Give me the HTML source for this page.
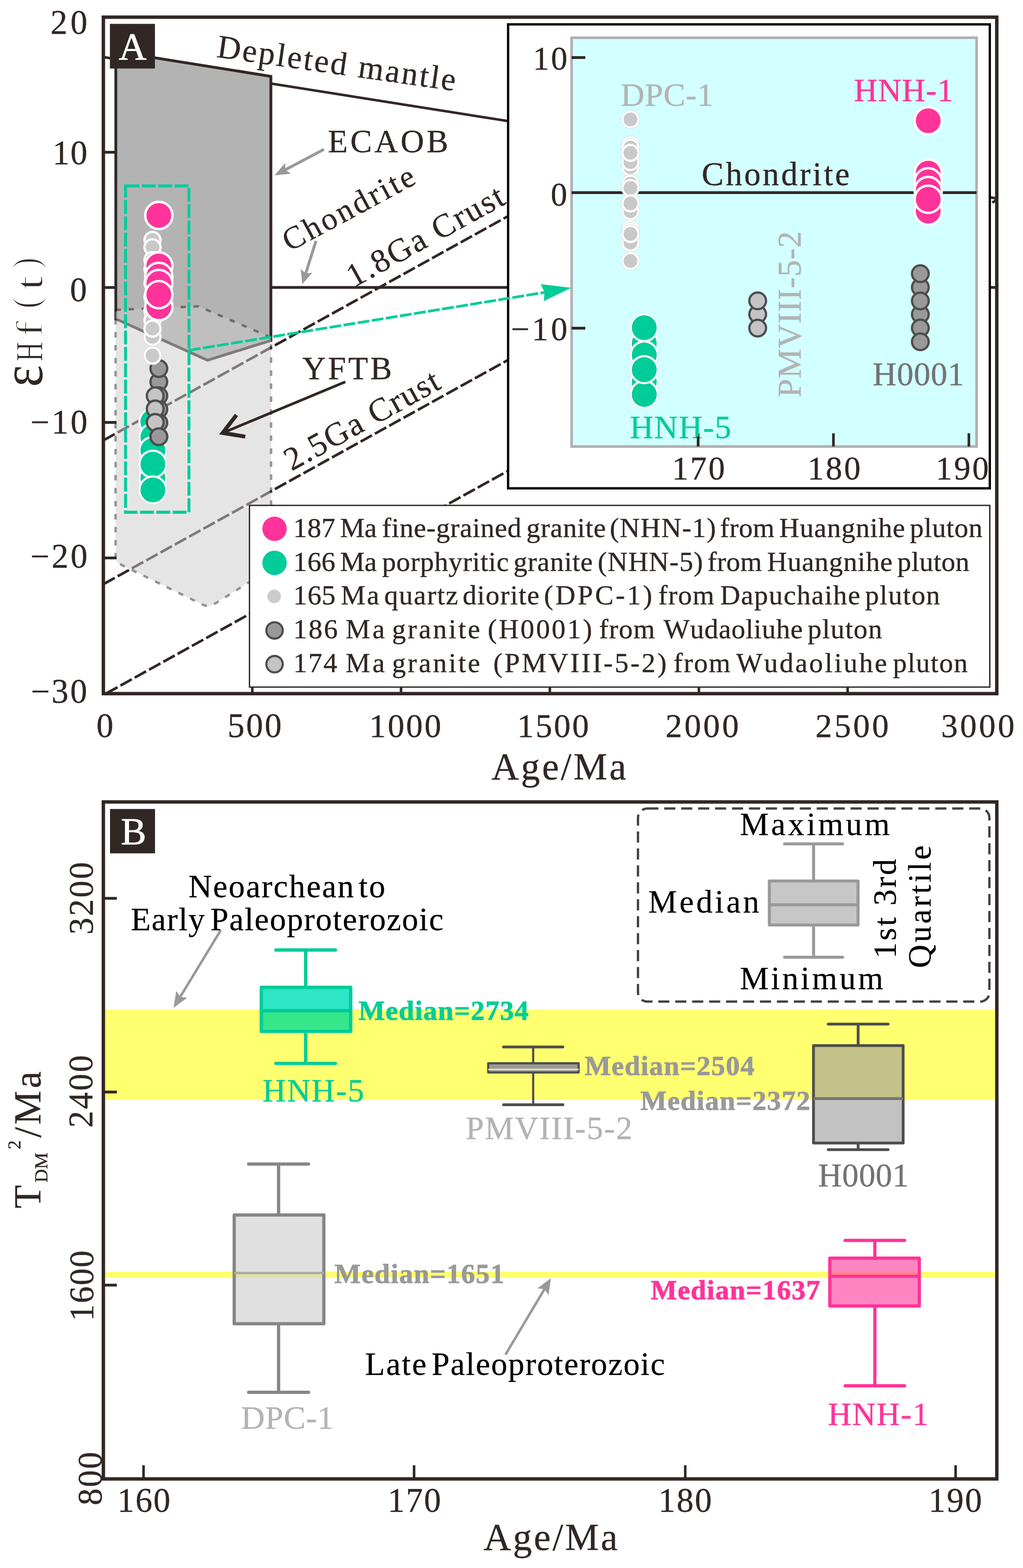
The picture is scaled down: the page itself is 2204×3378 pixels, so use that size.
<!DOCTYPE html>
<html lang="en">
<head>
<meta charset="utf-8">
<title>Hf isotope figure</title>
<style>
html,body{margin:0;padding:0;background:#ffffff;}
body{width:2204px;height:3378px;overflow:hidden;}
svg{display:block;}
svg text{font-family:"Liberation Serif","DejaVu Serif",serif;font-kerning:none;font-variant-ligatures:none;}
</style>
</head>
<body>
<svg width="2204" height="3378" viewBox="0 0 2204 3378">
<rect x="0" y="0" width="2204" height="3378" fill="#ffffff"/>
<g id="panelA">
<line x1="222.70" y1="122.93" x2="2147.50" y2="427.43" stroke="#312725" stroke-width="5.5"/>
<line x1="583.60" y1="619.30" x2="2147.50" y2="619.30" stroke="#312725" stroke-width="6"/>
<line x1="222.70" y1="948.70" x2="1384.00" y2="305.34" stroke="#312725" stroke-width="5.6" stroke-dasharray="28 7.2"/>
<line x1="222.70" y1="1258.50" x2="1817.00" y2="375.26" stroke="#312725" stroke-width="5.6" stroke-dasharray="28 7.2"/>
<line x1="228.70" y1="1494.00" x2="2147.50" y2="430.98" stroke="#312725" stroke-width="5.6" stroke-dasharray="28 7.2"/>
<polygon points="249.5,111 583.6,164.5 583.6,733.5 447,776 249.5,687" fill="#b3b3b3" stroke="#312725" stroke-width="6" stroke-linejoin="miter"/>
<g opacity="0.5"><path d="M249,667.5 L428,660 L584,727 L584,1225 L461,1301.6 Q449.4,1308.8 437,1302.7 L258,1215.1 Q249,1210.7 249,1200.7 Z" fill="#cccccc" stroke="#312725" stroke-width="5.2" stroke-dasharray="11.6 16.4" stroke-linejoin="round"/></g>
<rect x="270.5" y="400.5" width="136.6" height="703" fill="none" stroke="#00cc99" stroke-width="6.3" stroke-dasharray="29.8 5.4"/>
<circle cx="329.40" cy="908.70" r="31.20" fill="#ffffff" stroke="#d8d8d8" stroke-width="0.7"/>
<circle cx="329.40" cy="908.70" r="26.80" fill="#00cc99"/>
<circle cx="329.40" cy="941.60" r="31.20" fill="#ffffff" stroke="#d8d8d8" stroke-width="0.7"/>
<circle cx="329.40" cy="941.60" r="26.80" fill="#00cc99"/>
<circle cx="329.40" cy="970.50" r="31.20" fill="#ffffff" stroke="#d8d8d8" stroke-width="0.7"/>
<circle cx="329.40" cy="970.50" r="26.80" fill="#00cc99"/>
<circle cx="329.40" cy="1030.00" r="31.20" fill="#ffffff" stroke="#d8d8d8" stroke-width="0.7"/>
<circle cx="329.40" cy="1030.00" r="26.80" fill="#00cc99"/>
<circle cx="329.40" cy="1000.00" r="31.20" fill="#ffffff" stroke="#d8d8d8" stroke-width="0.7"/>
<circle cx="329.40" cy="1000.00" r="26.80" fill="#00cc99"/>
<circle cx="329.40" cy="1055.50" r="31.20" fill="#ffffff" stroke="#d8d8d8" stroke-width="0.7"/>
<circle cx="329.40" cy="1055.50" r="26.80" fill="#00cc99"/>
<circle cx="342.20" cy="822.60" r="18.00" fill="#999999" stroke="#4d4d4d" stroke-width="4.8"/>
<circle cx="342.20" cy="852.70" r="18.00" fill="#999999" stroke="#4d4d4d" stroke-width="4.8"/>
<circle cx="342.20" cy="881.70" r="18.00" fill="#999999" stroke="#4d4d4d" stroke-width="4.8"/>
<circle cx="342.20" cy="910.70" r="18.00" fill="#999999" stroke="#4d4d4d" stroke-width="4.8"/>
<circle cx="342.20" cy="794.00" r="18.00" fill="#999999" stroke="#4d4d4d" stroke-width="4.8"/>
<circle cx="342.20" cy="940.80" r="18.00" fill="#999999" stroke="#4d4d4d" stroke-width="4.8"/>
<circle cx="334.40" cy="852.70" r="18.00" fill="#c4c4c4" stroke="#4d4d4d" stroke-width="4.8"/>
<circle cx="334.40" cy="881.00" r="18.00" fill="#c4c4c4" stroke="#4d4d4d" stroke-width="4.8"/>
<circle cx="334.40" cy="910.00" r="18.00" fill="#c4c4c4" stroke="#4d4d4d" stroke-width="4.8"/>
<circle cx="342.20" cy="940.80" r="18.00" fill="#999999" stroke="#4d4d4d" stroke-width="4.8"/>
<circle cx="328.60" cy="517.00" r="19.90" fill="#ffffff" stroke="#cfcfcf" stroke-width="0.8"/>
<circle cx="328.60" cy="517.00" r="14.90" fill="#c9c9c9"/>
<circle cx="328.60" cy="532.60" r="19.90" fill="#ffffff" stroke="#cfcfcf" stroke-width="0.8"/>
<circle cx="328.60" cy="532.60" r="14.90" fill="#c9c9c9"/>
<circle cx="328.60" cy="560.00" r="19.90" fill="#ffffff" stroke="#cfcfcf" stroke-width="0.8"/>
<circle cx="328.60" cy="560.00" r="14.90" fill="#c9c9c9"/>
<circle cx="328.60" cy="580.00" r="19.90" fill="#ffffff" stroke="#cfcfcf" stroke-width="0.8"/>
<circle cx="328.60" cy="580.00" r="14.90" fill="#c9c9c9"/>
<circle cx="328.60" cy="610.00" r="19.90" fill="#ffffff" stroke="#cfcfcf" stroke-width="0.8"/>
<circle cx="328.60" cy="610.00" r="14.90" fill="#c9c9c9"/>
<circle cx="328.60" cy="640.00" r="19.90" fill="#ffffff" stroke="#cfcfcf" stroke-width="0.8"/>
<circle cx="328.60" cy="640.00" r="14.90" fill="#c9c9c9"/>
<circle cx="328.60" cy="670.00" r="19.90" fill="#ffffff" stroke="#cfcfcf" stroke-width="0.8"/>
<circle cx="328.60" cy="670.00" r="14.90" fill="#c9c9c9"/>
<circle cx="328.60" cy="690.00" r="19.90" fill="#ffffff" stroke="#cfcfcf" stroke-width="0.8"/>
<circle cx="328.60" cy="690.00" r="14.90" fill="#c9c9c9"/>
<circle cx="328.60" cy="725.70" r="19.90" fill="#ffffff" stroke="#cfcfcf" stroke-width="0.8"/>
<circle cx="328.60" cy="725.70" r="14.90" fill="#c9c9c9"/>
<circle cx="328.60" cy="708.00" r="19.90" fill="#ffffff" stroke="#cfcfcf" stroke-width="0.8"/>
<circle cx="328.60" cy="708.00" r="14.90" fill="#c9c9c9"/>
<circle cx="328.60" cy="766.00" r="19.90" fill="#ffffff" stroke="#cfcfcf" stroke-width="0.8"/>
<circle cx="328.60" cy="766.00" r="14.90" fill="#c9c9c9"/>
<circle cx="342.20" cy="464.20" r="29.30" fill="#ff3399" stroke="#ffffff" stroke-width="5.2"/>
<circle cx="342.20" cy="660.60" r="29.30" fill="#ff3399" stroke="#ffffff" stroke-width="5.2"/>
<circle cx="342.20" cy="573.00" r="29.30" fill="#ff3399" stroke="#ffffff" stroke-width="5.2"/>
<circle cx="342.20" cy="595.50" r="29.30" fill="#ff3399" stroke="#ffffff" stroke-width="5.2"/>
<circle cx="342.20" cy="610.60" r="29.30" fill="#ff3399" stroke="#ffffff" stroke-width="5.2"/>
<circle cx="342.20" cy="634.80" r="29.30" fill="#ff3399" stroke="#ffffff" stroke-width="5.2"/>
<line x1="698.00" y1="321.70" x2="614.65" y2="365.68" stroke="#999999" stroke-width="6.3"/>
<polygon points="591.30,378.00 614.42,351.10 614.65,365.68 626.55,374.10" fill="#999999"/>
<line x1="680.80" y1="519.00" x2="658.54" y2="589.32" stroke="#999999" stroke-width="6.2"/>
<polygon points="651.30,612.20 647.96,579.68 658.54,589.32 672.75,587.52" fill="#999999"/>
<line x1="744.00" y1="822.60" x2="480.00" y2="932.60" stroke="#312725" stroke-width="5.8"/>
<polyline points="509.5,894 479.7,932.7 528.4,940.6" fill="none" stroke="#312725" stroke-width="8.5" stroke-linejoin="miter"/>
<text transform="translate(467.50,123.00) rotate(8.10)" x="-2.03" y="0" font-size="70.5" fill="#312725" stroke="#312725" stroke-width="0.45" letter-spacing="3.896">Depleted mantle</text>
<text transform="translate(708.40,328.40)" x="-2.02" y="0" font-size="70" fill="#312725" stroke="#312725" stroke-width="0.45" letter-spacing="5.498">ECAOB</text>
<text transform="translate(626.00,541.50) rotate(-28.30)" x="-2.81" y="0" font-size="68.5" fill="#312725" stroke="#312725" stroke-width="0.45" letter-spacing="4.902">Chondrite</text>
<text transform="translate(768.00,617.00) rotate(-28.90)" x="-6.24" y="0" font-size="71" fill="#312725" stroke="#312725" stroke-width="0.45" letter-spacing="3.351">1.8Ga Crust</text>
<text transform="translate(652.00,816.50)" x="-0.79" y="0" font-size="70" fill="#312725" stroke="#312725" stroke-width="0.45" letter-spacing="4.758">YFTB</text>
<text transform="translate(631.00,1014.00) rotate(-29.00)" x="-3.12" y="0" font-size="71" fill="#312725" stroke="#312725" stroke-width="0.45" letter-spacing="2.839">2.5Ga Crust</text>
<rect x="1094.7" y="52.5" width="1037.8" height="999.5" fill="#ffffff" stroke="#000000" stroke-width="5"/>
<rect x="1231.5" y="81.3" width="872.5" height="880.7" fill="#d2ffff" stroke="#b1afb0" stroke-width="5.6"/>
<line x1="1231.50" y1="415.00" x2="2104.00" y2="415.00" stroke="#312725" stroke-width="6"/>
<line x1="1231.50" y1="124.00" x2="1261.00" y2="124.00" stroke="#312725" stroke-width="6"/>
<line x1="1231.50" y1="707.00" x2="1261.00" y2="707.00" stroke="#312725" stroke-width="6"/>
<line x1="1504.20" y1="962.00" x2="1504.20" y2="933.50" stroke="#312725" stroke-width="5.6"/>
<line x1="1795.60" y1="962.00" x2="1795.60" y2="933.50" stroke="#312725" stroke-width="5.6"/>
<line x1="2087.40" y1="962.00" x2="2087.40" y2="933.50" stroke="#312725" stroke-width="5.6"/>
<circle cx="1358.30" cy="257.40" r="19.90" fill="#ffffff" stroke="#cfcfcf" stroke-width="0.8"/>
<circle cx="1358.30" cy="257.40" r="14.90" fill="#c9c9c9"/>
<circle cx="1358.30" cy="312.60" r="19.90" fill="#ffffff" stroke="#cfcfcf" stroke-width="0.8"/>
<circle cx="1358.30" cy="312.60" r="14.90" fill="#c9c9c9"/>
<circle cx="1358.30" cy="318.00" r="19.90" fill="#ffffff" stroke="#cfcfcf" stroke-width="0.8"/>
<circle cx="1358.30" cy="318.00" r="14.90" fill="#c9c9c9"/>
<circle cx="1358.30" cy="360.20" r="19.90" fill="#ffffff" stroke="#cfcfcf" stroke-width="0.8"/>
<circle cx="1358.30" cy="360.20" r="14.90" fill="#c9c9c9"/>
<circle cx="1358.30" cy="349.20" r="19.90" fill="#ffffff" stroke="#cfcfcf" stroke-width="0.8"/>
<circle cx="1358.30" cy="349.20" r="14.90" fill="#c9c9c9"/>
<circle cx="1358.30" cy="329.30" r="19.90" fill="#ffffff" stroke="#cfcfcf" stroke-width="0.8"/>
<circle cx="1358.30" cy="329.30" r="14.90" fill="#c9c9c9"/>
<circle cx="1358.30" cy="395.80" r="19.90" fill="#ffffff" stroke="#cfcfcf" stroke-width="0.8"/>
<circle cx="1358.30" cy="395.80" r="14.90" fill="#c9c9c9"/>
<circle cx="1358.30" cy="455.00" r="19.90" fill="#ffffff" stroke="#cfcfcf" stroke-width="0.8"/>
<circle cx="1358.30" cy="455.00" r="14.90" fill="#c9c9c9"/>
<circle cx="1358.30" cy="404.90" r="19.90" fill="#ffffff" stroke="#cfcfcf" stroke-width="0.8"/>
<circle cx="1358.30" cy="404.90" r="14.90" fill="#c9c9c9"/>
<circle cx="1358.30" cy="438.20" r="19.90" fill="#ffffff" stroke="#cfcfcf" stroke-width="0.8"/>
<circle cx="1358.30" cy="438.20" r="14.90" fill="#c9c9c9"/>
<circle cx="1358.30" cy="493.60" r="19.90" fill="#ffffff" stroke="#cfcfcf" stroke-width="0.8"/>
<circle cx="1358.30" cy="493.60" r="14.90" fill="#c9c9c9"/>
<circle cx="1358.30" cy="522.80" r="19.90" fill="#ffffff" stroke="#cfcfcf" stroke-width="0.8"/>
<circle cx="1358.30" cy="522.80" r="14.90" fill="#c9c9c9"/>
<circle cx="1358.30" cy="499.00" r="19.90" fill="#ffffff" stroke="#cfcfcf" stroke-width="0.8"/>
<circle cx="1358.30" cy="499.00" r="14.90" fill="#c9c9c9"/>
<circle cx="1358.30" cy="504.00" r="19.90" fill="#ffffff" stroke="#cfcfcf" stroke-width="0.8"/>
<circle cx="1358.30" cy="504.00" r="14.90" fill="#c9c9c9"/>
<circle cx="1358.30" cy="562.20" r="19.90" fill="#ffffff" stroke="#cfcfcf" stroke-width="0.8"/>
<circle cx="1358.30" cy="562.20" r="14.90" fill="#c9c9c9"/>
<circle cx="1388.00" cy="739.60" r="31.20" fill="#ffffff" stroke="#d8d8d8" stroke-width="0.7"/>
<circle cx="1388.00" cy="739.60" r="26.80" fill="#00cc99"/>
<circle cx="1388.00" cy="764.70" r="31.20" fill="#ffffff" stroke="#d8d8d8" stroke-width="0.7"/>
<circle cx="1388.00" cy="764.70" r="26.80" fill="#00cc99"/>
<circle cx="1388.00" cy="822.70" r="31.20" fill="#ffffff" stroke="#d8d8d8" stroke-width="0.7"/>
<circle cx="1388.00" cy="822.70" r="26.80" fill="#00cc99"/>
<circle cx="1388.00" cy="849.70" r="31.20" fill="#ffffff" stroke="#d8d8d8" stroke-width="0.7"/>
<circle cx="1388.00" cy="849.70" r="26.80" fill="#00cc99"/>
<circle cx="1388.00" cy="706.00" r="31.20" fill="#ffffff" stroke="#d8d8d8" stroke-width="0.7"/>
<circle cx="1388.00" cy="706.00" r="26.80" fill="#00cc99"/>
<circle cx="1388.00" cy="796.40" r="31.20" fill="#ffffff" stroke="#d8d8d8" stroke-width="0.7"/>
<circle cx="1388.00" cy="796.40" r="26.80" fill="#00cc99"/>
<circle cx="1632.40" cy="677.00" r="18.00" fill="#c4c4c4" stroke="#4d4d4d" stroke-width="4.8"/>
<circle cx="1632.40" cy="648.10" r="18.00" fill="#c4c4c4" stroke="#4d4d4d" stroke-width="4.8"/>
<circle cx="1632.40" cy="706.80" r="18.00" fill="#c4c4c4" stroke="#4d4d4d" stroke-width="4.8"/>
<circle cx="1982.80" cy="619.00" r="18.00" fill="#999999" stroke="#4d4d4d" stroke-width="4.8"/>
<circle cx="1982.80" cy="589.60" r="18.00" fill="#999999" stroke="#4d4d4d" stroke-width="4.8"/>
<circle cx="1982.80" cy="677.20" r="18.00" fill="#999999" stroke="#4d4d4d" stroke-width="4.8"/>
<circle cx="1982.80" cy="648.30" r="18.00" fill="#999999" stroke="#4d4d4d" stroke-width="4.8"/>
<circle cx="1982.80" cy="706.60" r="18.00" fill="#999999" stroke="#4d4d4d" stroke-width="4.8"/>
<circle cx="1982.80" cy="736.30" r="18.00" fill="#999999" stroke="#4d4d4d" stroke-width="4.8"/>
<circle cx="1999.80" cy="260.10" r="29.30" fill="#ff3399" stroke="#ffffff" stroke-width="5.2"/>
<circle cx="1999.80" cy="454.90" r="29.30" fill="#ff3399" stroke="#ffffff" stroke-width="5.2"/>
<circle cx="1999.80" cy="373.00" r="29.30" fill="#ff3399" stroke="#ffffff" stroke-width="5.2"/>
<circle cx="1999.80" cy="391.70" r="29.30" fill="#ff3399" stroke="#ffffff" stroke-width="5.2"/>
<circle cx="1999.80" cy="410.50" r="29.30" fill="#ff3399" stroke="#ffffff" stroke-width="5.2"/>
<circle cx="1999.80" cy="429.30" r="29.30" fill="#ff3399" stroke="#ffffff" stroke-width="5.2"/>
<text transform="translate(1154.20,149.80)" x="-6.24" y="0" font-size="71" fill="#312725" stroke="#312725" stroke-width="0.45" letter-spacing="3.544">10</text>
<text transform="translate(1189.30,443.30)" x="-2.70" y="0" font-size="71" fill="#312725" stroke="#312725" stroke-width="0.45">0</text>
<text transform="translate(1104.00,732.70)" x="-3.54" y="0" font-size="71" fill="#312725" stroke="#312725" stroke-width="0.45" letter-spacing="5.499">−10</text>
<text transform="translate(1454.00,1033.20)" x="-6.24" y="0" font-size="71" fill="#312725" stroke="#312725" stroke-width="0.45" letter-spacing="3.722">170</text>
<text transform="translate(1746.00,1032.80)" x="-6.24" y="0" font-size="71" fill="#312725" stroke="#312725" stroke-width="0.45" letter-spacing="3.822">180</text>
<text transform="translate(2022.30,1032.80)" x="-6.24" y="0" font-size="71" fill="#312725" stroke="#312725" stroke-width="0.45" letter-spacing="3.872">190</text>
<text transform="translate(1339.60,228.20)" x="-2.03" y="0" font-size="70.5" fill="#b3b3b3" stroke="#b3b3b3" stroke-width="0.45" letter-spacing="0.873">DPC-1</text>
<text transform="translate(1841.80,218.00)" x="-2.02" y="0" font-size="70" fill="#ff3399" stroke="#ff3399" stroke-width="0.45" letter-spacing="1.064">HNH-1</text>
<text transform="translate(1514.60,398.70)" x="-2.91" y="0" font-size="71" fill="#312725" stroke="#312725" stroke-width="0.45" letter-spacing="4.351">Chondrite</text>
<text transform="translate(1358.90,943.60)" x="-2.03" y="0" font-size="70.5" fill="#00cc99" stroke="#00cc99" stroke-width="0.45" letter-spacing="1.730">HNH-5</text>
<text transform="translate(1882.00,829.50)" x="-2.06" y="0" font-size="71.5" fill="#737373" stroke="#737373" stroke-width="0.45" letter-spacing="0.680">H0001</text>
<text transform="translate(1725.30,854.00) rotate(-90.00)" x="-2.06" y="0" font-size="71.5" fill="#b3b3b3" stroke="#b3b3b3" stroke-width="0.45" letter-spacing="1.387">PMVIII-5-2</text>
<line x1="407.00" y1="754.70" x2="1174.00" y2="629.80" stroke="#00cc99" stroke-width="5.7" stroke-dasharray="25.5 5.2"/>
<polygon points="1230.7,619.9 1165,612.2 1173.2,629.8 1171.6,648.8" fill="#00cc99"/>
<line x1="1504.20" y1="962.00" x2="1504.20" y2="940.00" stroke="#312725" stroke-width="5.6"/>
<line x1="543.60" y1="1494.30" x2="543.60" y2="1466.30" stroke="#312725" stroke-width="5.5"/>
<line x1="864.00" y1="1494.30" x2="864.00" y2="1466.30" stroke="#312725" stroke-width="5.5"/>
<line x1="1184.70" y1="1494.30" x2="1184.70" y2="1466.30" stroke="#312725" stroke-width="5.5"/>
<line x1="1505.80" y1="1494.30" x2="1505.80" y2="1466.30" stroke="#312725" stroke-width="5.5"/>
<line x1="1826.20" y1="1494.30" x2="1826.20" y2="1466.30" stroke="#312725" stroke-width="5.5"/>
<rect x="537.5" y="1088.8" width="1595.0" height="391.4" fill="#ffffff" stroke="#312725" stroke-width="2.9"/>
<circle cx="591.50" cy="1139.20" r="26.30" fill="#ff3399"/>
<circle cx="591.50" cy="1212.60" r="26.30" fill="#00cc99"/>
<circle cx="590.70" cy="1284.80" r="14.70" fill="#cccccc"/>
<circle cx="591.50" cy="1358.20" r="17.70" fill="#999999" stroke="#4d4d4d" stroke-width="4.6"/>
<circle cx="591.50" cy="1430.80" r="17.70" fill="#c4c4c4" stroke="#4d4d4d" stroke-width="4.6"/>
<text font-size="59.8" fill="#312725" stroke="#312725" stroke-width="0.45" y="1156.6">
<tspan x="631.84" letter-spacing="0.439">187</tspan> 
<tspan x="732.58" letter-spacing="-0.374">Ma</tspan> 
<tspan x="822.96" letter-spacing="0.725">fine-grained</tspan> 
<tspan x="1133.93" letter-spacing="0.903">granite</tspan> 
<tspan x="1313.77" letter-spacing="1.560">(NHN-1)</tspan> 
<tspan x="1551.36" letter-spacing="0.344">from</tspan> 
<tspan x="1678.78" letter-spacing="1.089">Huangnihe</tspan> 
<tspan x="1960.34" letter-spacing="0.708">pluton</tspan>
</text>
<text font-size="59.8" fill="#312725" stroke="#312725" stroke-width="0.45" y="1229.6">
<tspan x="631.84" letter-spacing="0.469">166</tspan> 
<tspan x="732.58" letter-spacing="-0.374">Ma</tspan> 
<tspan x="823.14" letter-spacing="0.739">porphyritic</tspan> 
<tspan x="1106.13" letter-spacing="0.819">granite</tspan> 
<tspan x="1287.87" letter-spacing="1.243">(NHN-5)</tspan> 
<tspan x="1524.36" letter-spacing="0.344">from</tspan> 
<tspan x="1652.48" letter-spacing="1.001">Huangnihe</tspan> 
<tspan x="1933.34" letter-spacing="0.468">pluton</tspan>
</text>
<text font-size="59.8" fill="#312725" stroke="#312725" stroke-width="0.45" y="1302.4">
<tspan x="631.84" letter-spacing="0.746">165</tspan> 
<tspan x="734.28" letter-spacing="3.026">Ma</tspan> 
<tspan x="827.74" letter-spacing="1.943">quartz</tspan> 
<tspan x="996.64" letter-spacing="1.556">diorite</tspan> 
<tspan x="1171.97" letter-spacing="4.547">(DPC-1)</tspan> 
<tspan x="1418.16" letter-spacing="1.444">from</tspan> 
<tspan x="1551.48" letter-spacing="1.803">Dapuchaihe</tspan> 
<tspan x="1863.74" letter-spacing="1.728">pluton</tspan>
</text>
<text font-size="59.8" fill="#312725" stroke="#312725" stroke-width="0.45" y="1374.9">
<tspan x="631.84" letter-spacing="3.019">186</tspan> 
<tspan x="744.58" letter-spacing="4.726">Ma</tspan> 
<tspan x="844.43" letter-spacing="3.986">granite</tspan> 
<tspan x="1050.77" letter-spacing="3.707">(H0001)</tspan> 
<tspan x="1290.66" letter-spacing="1.344">from</tspan> 
<tspan x="1429.54" letter-spacing="0.875">Wudaoliuhe</tspan> 
<tspan x="1740.04" letter-spacing="1.508">pluton</tspan>
</text>
<text font-size="59.8" fill="#312725" stroke="#312725" stroke-width="0.45" y="1447.6">
<tspan x="631.84" letter-spacing="2.595">174</tspan> 
<tspan x="744.58" letter-spacing="4.726">Ma</tspan> 
<tspan x="844.43" letter-spacing="3.986">granite</tspan> 
<tspan x="1062.77" letter-spacing="4.049">(PMVIII-5-2)</tspan> 
<tspan x="1450.96" letter-spacing="2.077">from</tspan> 
<tspan x="1585.94" letter-spacing="3.653">Wudaoliuhe</tspan> 
<tspan x="1923.64" letter-spacing="1.688">pluton</tspan>
</text>
<rect x="222.7" y="37.0" width="1924.8" height="1457.3" fill="none" stroke="#312725" stroke-width="7.4"/>
<line x1="222.70" y1="328.00" x2="251.00" y2="328.00" stroke="#312725" stroke-width="6"/>
<line x1="222.70" y1="619.40" x2="251.00" y2="619.40" stroke="#312725" stroke-width="6"/>
<line x1="222.70" y1="910.00" x2="251.00" y2="910.00" stroke="#312725" stroke-width="6"/>
<line x1="222.70" y1="1202.00" x2="251.00" y2="1202.00" stroke="#312725" stroke-width="6"/>
<rect x="236.8" y="51.4" width="97" height="96.2" fill="#312725"/>
<text transform="translate(256.50,128.30)" x="-0.81" y="0" font-size="83" fill="#ffffff" stroke="#ffffff" stroke-width="0.9">A</text>
<text transform="translate(112.00,73.40)" x="-3.21" y="0" font-size="73" fill="#312725" stroke="#312725" stroke-width="0.45" letter-spacing="6.388">20</text>
<text transform="translate(119.70,353.50)" x="-6.42" y="0" font-size="73" fill="#312725" stroke="#312725" stroke-width="0.45" letter-spacing="1.896">10</text>
<text transform="translate(153.60,649.00)" x="-2.78" y="0" font-size="73" fill="#312725" stroke="#312725" stroke-width="0.45">0</text>
<text transform="translate(68.80,933.70)" x="-3.64" y="0" font-size="73" fill="#312725" stroke="#312725" stroke-width="0.45" letter-spacing="4.623">−10</text>
<text transform="translate(68.80,1222.50)" x="-3.64" y="0" font-size="73" fill="#312725" stroke="#312725" stroke-width="0.45" letter-spacing="4.623">−20</text>
<text transform="translate(69.90,1513.50)" x="-3.64" y="0" font-size="73" fill="#312725" stroke="#312725" stroke-width="0.45" letter-spacing="3.623">−30</text>
<text transform="translate(210.50,1587.60)" x="-2.78" y="0" font-size="73" fill="#312725" stroke="#312725" stroke-width="0.45">0</text>
<text transform="translate(494.40,1587.60)" x="-4.24" y="0" font-size="73" fill="#312725" stroke="#312725" stroke-width="0.45" letter-spacing="3.561">500</text>
<text transform="translate(801.80,1587.60)" x="-6.33" y="0" font-size="72" fill="#312725" stroke="#312725" stroke-width="0.45" letter-spacing="3.690">1000</text>
<text transform="translate(1120.70,1587.60)" x="-6.33" y="0" font-size="72" fill="#312725" stroke="#312725" stroke-width="0.45" letter-spacing="3.423">1500</text>
<text transform="translate(1437.00,1587.60)" x="-3.16" y="0" font-size="72" fill="#312725" stroke="#312725" stroke-width="0.45" letter-spacing="4.635">2000</text>
<text transform="translate(1760.00,1587.60)" x="-3.16" y="0" font-size="72" fill="#312725" stroke="#312725" stroke-width="0.45" letter-spacing="4.635">2500</text>
<text transform="translate(2031.00,1587.60)" x="-3.45" y="0" font-size="72" fill="#312725" stroke="#312725" stroke-width="0.45" letter-spacing="4.729">3000</text>
<text transform="translate(1059.60,1679.30)" x="-0.80" y="0" font-size="82" fill="#312725" stroke="#312725" stroke-width="0.45" letter-spacing="4.304">Age/Ma</text>
<text transform="translate(91.4,829.5) rotate(-90)" fill="#312725"><tspan x="-4.34" y="0.00" font-size="128" textLength="47.29" lengthAdjust="spacingAndGlyphs">ε</tspan><tspan x="51.35" y="0.00" font-size="83" textLength="41.33" lengthAdjust="spacingAndGlyphs" stroke="#ffffff" stroke-width="0.8">H</tspan><tspan x="102.58" y="0.00" font-size="80" textLength="35.92" lengthAdjust="spacingAndGlyphs" stroke="#ffffff" stroke-width="2.0">f</tspan><tspan x="164.38" y="-8.00" font-size="83" textLength="25.15" lengthAdjust="spacingAndGlyphs" stroke="#ffffff" stroke-width="2.4">(</tspan><tspan x="203.68" y="0.00" font-size="83" textLength="31.79" lengthAdjust="spacingAndGlyphs" stroke="#ffffff" stroke-width="2.0">t</tspan><tspan x="250.42" y="-8.00" font-size="83" textLength="24.63" lengthAdjust="spacingAndGlyphs" stroke="#ffffff" stroke-width="2.4">)</tspan></text>
</g>
<g id="panelB">
<rect x="222.7" y="2174.7" width="1924.9" height="195.1" fill="#ffff70"/>
<rect x="222.7" y="2739.5" width="1924.9" height="12.6" fill="#ffff70"/>
<rect x="1374.5" y="1741.7" width="757.1" height="416.1" rx="20" ry="20" fill="#ffffff" stroke="#454242" stroke-width="5" stroke-dasharray="24 12.5"/>
<line x1="1752.80" y1="1818.00" x2="1752.80" y2="1898.00" stroke="#999999" stroke-width="6.5"/>
<line x1="1752.80" y1="1992.80" x2="1752.80" y2="2062.20" stroke="#999999" stroke-width="6.5"/>
<line x1="1690.30" y1="1818.00" x2="1815.30" y2="1818.00" stroke="#999999" stroke-width="6.5" stroke-linecap="round"/>
<line x1="1690.30" y1="2062.20" x2="1815.30" y2="2062.20" stroke="#999999" stroke-width="6.5" stroke-linecap="round"/>
<rect x="1657.50" y="1898.00" width="191.10" height="94.80" fill="#999999" fill-opacity="0.55" stroke="#999999" stroke-width="6.5" stroke-linejoin="round"/>
<line x1="1657.50" y1="1949.20" x2="1848.60" y2="1949.20" stroke="#999999" stroke-width="6.5"/>
<rect x="563" y="2127" width="192.6" height="50.4" fill="#2ee5c6"/>
<rect x="563" y="2177.4" width="192.6" height="44.6" fill="#36e68a"/>
<line x1="658.60" y1="2046.70" x2="658.60" y2="2127.00" stroke="#00cc99" stroke-width="7.2"/>
<line x1="658.60" y1="2222.00" x2="658.60" y2="2291.00" stroke="#00cc99" stroke-width="7.2"/>
<line x1="594.60" y1="2046.70" x2="722.60" y2="2046.70" stroke="#00cc99" stroke-width="7.2" stroke-linecap="round"/>
<line x1="594.60" y1="2291.00" x2="722.60" y2="2291.00" stroke="#00cc99" stroke-width="7.2" stroke-linecap="round"/>
<rect x="563.00" y="2127.00" width="192.60" height="95.00" fill="none" fill-opacity="1" stroke="#00cc99" stroke-width="7.2" stroke-linejoin="round"/>
<line x1="563.00" y1="2177.40" x2="755.60" y2="2177.40" stroke="#00cc99" stroke-width="7.2"/>
<line x1="1148.70" y1="2255.50" x2="1148.70" y2="2290.60" stroke="#4d4d4d" stroke-width="4.6"/>
<line x1="1148.70" y1="2310.50" x2="1148.70" y2="2379.90" stroke="#4d4d4d" stroke-width="4.6"/>
<line x1="1084.70" y1="2255.50" x2="1212.70" y2="2255.50" stroke="#4d4d4d" stroke-width="6" stroke-linecap="round"/>
<line x1="1084.70" y1="2379.90" x2="1212.70" y2="2379.90" stroke="#4d4d4d" stroke-width="6" stroke-linecap="round"/>
<rect x="1051.80" y="2290.60" width="194.80" height="19.90" fill="#999999" fill-opacity="1.0" stroke="#4d4d4d" stroke-width="4.6" stroke-linejoin="round"/>
<line x1="1051.80" y1="2304.00" x2="1246.60" y2="2304.00" stroke="#e0e0ac" stroke-width="3.6"/>
<line x1="1848.80" y1="2206.30" x2="1848.80" y2="2252.50" stroke="#4d4d4d" stroke-width="6"/>
<line x1="1848.80" y1="2462.40" x2="1848.80" y2="2476.70" stroke="#4d4d4d" stroke-width="6"/>
<line x1="1784.30" y1="2206.30" x2="1913.30" y2="2206.30" stroke="#4d4d4d" stroke-width="6" stroke-linecap="round"/>
<line x1="1784.30" y1="2476.70" x2="1913.30" y2="2476.70" stroke="#4d4d4d" stroke-width="6" stroke-linecap="round"/>
<rect x="1752.60" y="2252.50" width="193.20" height="209.90" fill="#999999" fill-opacity="0.6" stroke="#4d4d4d" stroke-width="6" stroke-linejoin="round"/>
<line x1="1752.60" y1="2366.70" x2="1945.80" y2="2366.70" stroke="#737373" stroke-width="6"/>
<line x1="600.20" y1="2507.80" x2="600.20" y2="2617.60" stroke="#868686" stroke-width="7"/>
<line x1="600.20" y1="2851.80" x2="600.20" y2="2999.50" stroke="#868686" stroke-width="7"/>
<line x1="535.70" y1="2507.80" x2="664.70" y2="2507.80" stroke="#868686" stroke-width="7" stroke-linecap="round"/>
<line x1="535.70" y1="2999.50" x2="664.70" y2="2999.50" stroke="#868686" stroke-width="7" stroke-linecap="round"/>
<rect x="504.60" y="2617.60" width="193.10" height="234.20" fill="#cccccc" fill-opacity="0.6" stroke="#868686" stroke-width="7" stroke-linejoin="round"/>
<line x1="504.60" y1="2742.60" x2="697.70" y2="2742.60" stroke="#aaaaaa" stroke-width="5"/>
<line x1="1884.80" y1="2672.30" x2="1884.80" y2="2710.50" stroke="#ff3399" stroke-width="7"/>
<line x1="1884.80" y1="2813.50" x2="1884.80" y2="2985.50" stroke="#ff3399" stroke-width="7"/>
<line x1="1820.80" y1="2672.30" x2="1948.80" y2="2672.30" stroke="#ff3399" stroke-width="7" stroke-linecap="round"/>
<line x1="1820.80" y1="2985.50" x2="1948.80" y2="2985.50" stroke="#ff3399" stroke-width="7" stroke-linecap="round"/>
<rect x="1787.80" y="2710.50" width="192.70" height="103.00" fill="#ff3399" fill-opacity="0.6" stroke="#ff3399" stroke-width="7" stroke-linejoin="round"/>
<line x1="1787.80" y1="2749.40" x2="1980.50" y2="2749.40" stroke="#ff3399" stroke-width="7"/>
<line x1="475.50" y1="2004.20" x2="388.14" y2="2147.76" stroke="#999999" stroke-width="5.4"/>
<polygon points="374.00,2171.00 379.71,2134.68 388.14,2147.76 403.63,2149.23" fill="#999999"/>
<line x1="1089.00" y1="2918.30" x2="1173.09" y2="2777.07" stroke="#999999" stroke-width="5.4"/>
<polygon points="1187.00,2753.70 1181.64,2790.08 1173.09,2777.07 1157.58,2775.75" fill="#999999"/>
<text font-size="70" fill="#000000" stroke="#000000" stroke-width="0.3" y="1932.5">
<tspan x="405.88" letter-spacing="2.463">Neoarchean</tspan> 
<tspan x="772.72" letter-spacing="2.801">to</tspan>
</text>
<text font-size="70" fill="#000000" stroke="#000000" stroke-width="0.3" y="2004.2">
<tspan x="281.98" letter-spacing="1.851">Early</tspan> 
<tspan x="453.28" letter-spacing="1.848">Paleoproterozoic</tspan>
</text>
<text font-size="70" fill="#000000" stroke="#000000" stroke-width="0.3" y="2962.0">
<tspan x="786.58" letter-spacing="2.599">Late</tspan> 
<tspan x="929.78" letter-spacing="1.902">Paleoproterozoic</tspan>
</text>
<text transform="translate(1595.90,1799.00)" x="-2.02" y="0" font-size="70" fill="#000000" stroke="#000000" stroke-width="0.25" letter-spacing="5.243">Maximum</text>
<text transform="translate(1398.40,1966.00)" x="-2.02" y="0" font-size="70" fill="#000000" stroke="#000000" stroke-width="0.25" letter-spacing="5.130">Median</text>
<text transform="translate(1595.90,2131.10)" x="-2.02" y="0" font-size="70" fill="#000000" stroke="#000000" stroke-width="0.25" letter-spacing="4.846">Minimum</text>
<text transform="translate(1929.70,2058.80) rotate(-90.00)" x="-6.15" y="0" font-size="70" fill="#000000" stroke="#000000" stroke-width="0.25" letter-spacing="3.668">1st 3rd</text>
<text transform="translate(2004.80,2082.70) rotate(-90.00)" x="-2.87" y="0" font-size="70" fill="#000000" stroke="#000000" stroke-width="0.25" letter-spacing="4.993">Quartile</text>
<text transform="translate(773.60,2197.00)" x="-1.03" y="0" font-size="60" fill="#00cc99" stroke="#00cc99" stroke-width="1.0" font-weight="bold" letter-spacing="1.528">Median=2734</text>
<text transform="translate(1260.50,2316.30)" x="-1.03" y="0" font-size="60" fill="#999999" stroke="#999999" stroke-width="1.0" font-weight="bold" letter-spacing="1.498">Median=2504</text>
<text transform="translate(1380.80,2391.10)" x="-1.03" y="0" font-size="60" fill="#999999" stroke="#999999" stroke-width="1.0" font-weight="bold" letter-spacing="1.474">Median=2372</text>
<text transform="translate(721.50,2763.60)" x="-1.03" y="0" font-size="60" fill="#999999" stroke="#999999" stroke-width="1.0" font-weight="bold" letter-spacing="1.527">Median=1651</text>
<text transform="translate(1403.00,2798.70)" x="-1.03" y="0" font-size="60" fill="#ff3399" stroke="#ff3399" stroke-width="1.0" font-weight="bold" letter-spacing="1.403">Median=1637</text>
<text transform="translate(567.60,2373.00)" x="-2.02" y="0" font-size="70" fill="#00cc99" stroke="#00cc99" stroke-width="0.45" letter-spacing="2.196">HNH-5</text>
<text transform="translate(1005.50,2453.60)" x="-2.02" y="0" font-size="70" fill="#b3b3b3" stroke="#b3b3b3" stroke-width="0.45" letter-spacing="2.267">PMVIII-5-2</text>
<text transform="translate(1764.50,2555.50)" x="-2.05" y="0" font-size="71" fill="#737373" stroke="#737373" stroke-width="0.45" letter-spacing="0.584">H0001</text>
<text transform="translate(521.50,3078.00)" x="-2.03" y="0" font-size="70.5" fill="#b3b3b3" stroke="#b3b3b3" stroke-width="0.45" letter-spacing="0.848">DPC-1</text>
<text transform="translate(1785.70,3069.80)" x="-2.02" y="0" font-size="70" fill="#ff3399" stroke="#ff3399" stroke-width="0.45" letter-spacing="1.789">HNH-1</text>
<rect x="222.7" y="1727.7" width="1924.9" height="1458.4" fill="none" stroke="#312725" stroke-width="7.4"/>
<line x1="222.70" y1="1935.30" x2="251.80" y2="1935.30" stroke="#312725" stroke-width="6"/>
<line x1="222.70" y1="2352.60" x2="251.80" y2="2352.60" stroke="#312725" stroke-width="6"/>
<line x1="222.70" y1="2768.60" x2="251.80" y2="2768.60" stroke="#312725" stroke-width="6"/>
<line x1="309.20" y1="3186.10" x2="309.20" y2="3156.60" stroke="#312725" stroke-width="5.5"/>
<line x1="892.10" y1="3186.10" x2="892.10" y2="3156.60" stroke="#312725" stroke-width="5.5"/>
<line x1="1476.30" y1="3186.10" x2="1476.30" y2="3156.60" stroke="#312725" stroke-width="5.5"/>
<line x1="2058.80" y1="3186.10" x2="2058.80" y2="3156.60" stroke="#312725" stroke-width="5.5"/>
<rect x="237" y="1742.8" width="97" height="95.6" fill="#312725"/>
<text transform="translate(262.80,1818.50)" x="-2.36" y="0" font-size="82" fill="#ffffff" stroke="#ffffff" stroke-width="0.9">B</text>
<text transform="translate(199.70,2010.00) rotate(-90.00)" x="-3.49" y="0" font-size="73" fill="#312725" stroke="#312725" stroke-width="0.45" letter-spacing="3.424">3200</text>
<text transform="translate(199.30,2426.30) rotate(-90.00)" x="-3.21" y="0" font-size="73" fill="#312725" stroke="#312725" stroke-width="0.45" letter-spacing="3.429">2400</text>
<text transform="translate(201.30,2839.80) rotate(-90.00)" x="-6.42" y="0" font-size="73" fill="#312725" stroke="#312725" stroke-width="0.45" letter-spacing="2.065">1600</text>
<text transform="translate(219.30,3240.20) rotate(-90.00)" x="-2.78" y="0" font-size="73" fill="#312725" stroke="#312725" stroke-width="0.45" letter-spacing="2.780">800</text>
<text transform="translate(259.20,3256.50)" x="-6.42" y="0" font-size="73" fill="#312725" stroke="#312725" stroke-width="0.45" letter-spacing="2.348">160</text>
<text transform="translate(841.70,3256.50)" x="-6.42" y="0" font-size="73" fill="#312725" stroke="#312725" stroke-width="0.45" letter-spacing="2.648">170</text>
<text transform="translate(1425.00,3256.50)" x="-6.42" y="0" font-size="73" fill="#312725" stroke="#312725" stroke-width="0.45" letter-spacing="2.648">180</text>
<text transform="translate(2007.00,3256.50)" x="-6.42" y="0" font-size="73" fill="#312725" stroke="#312725" stroke-width="0.45" letter-spacing="2.648">190</text>
<text transform="translate(1042.50,3338.60)" x="-0.80" y="0" font-size="82" fill="#312725" stroke="#312725" stroke-width="0.45" letter-spacing="4.044">Age/Ma</text>
<text transform="translate(86.5,2601.9) rotate(-90)" fill="#312725" stroke="#312725" stroke-width="0.45"><tspan x="-1.48" y="0.00" font-size="82" letter-spacing="0.000">T</tspan><tspan x="54.35" y="15.50" font-size="40" letter-spacing="0.271">DM</tspan><tspan x="125.89" y="-42.10" font-size="39" letter-spacing="0.000">2</tspan><tspan x="151.20" y="0.00" font-size="82" letter-spacing="5.216">/Ma</tspan></text>
</g>
</svg>
</body>
</html>
